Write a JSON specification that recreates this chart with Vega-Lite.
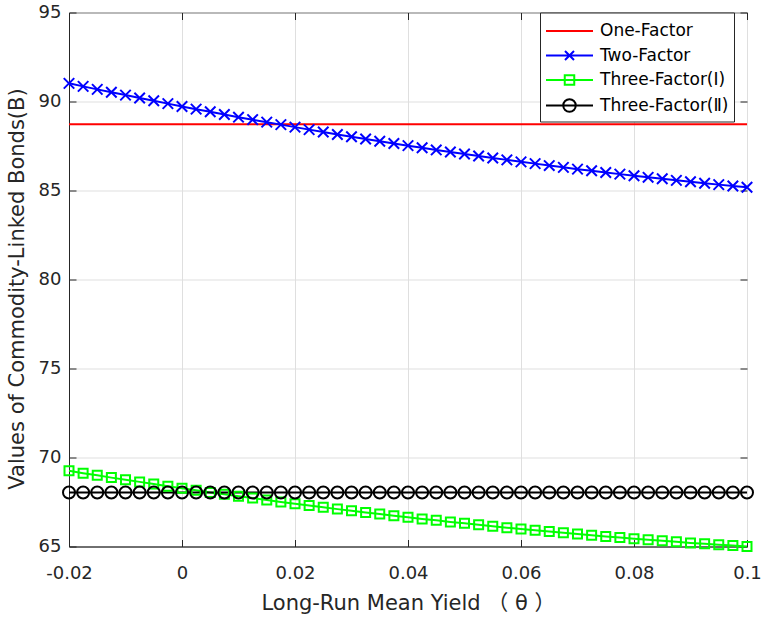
{
  "$schema": "https://vega.github.io/schema/vega-lite/v6.json",
  "width": 678,
  "height": 534,
  "autosize": "none",
  "padding": {"left": 69, "top": 12.5, "right": 14, "bottom": 74.5},
  "background": "white",
  "config": {
    "font": "DejaVu Sans, Noto Sans CJK SC",
    "view": {"stroke": "#262626", "strokeWidth": 1},
    "axis": {
      "domainColor": "#262626",
      "tickColor": "#262626",
      "gridColor": "#dfdfdf",
      "gridWidth": 1,
      "labelColor": "#262626",
      "titleColor": "#262626",
      "labelFont": "DejaVu Sans",
      "titleFont": "DejaVu Sans, Noto Sans CJK SC",
      "labelFontSize": 18,
      "titleFontSize": 21,
      "titleFontWeight": "normal"
    }
  },
  "data": {
    "values": [
      {"x": -0.02, "one": 88.72, "two": 91.02, "three1": 69.25, "three2": 68.03},
      {"x": -0.0175, "one": 88.72, "two": 90.85, "three1": 69.12, "three2": 68.03},
      {"x": -0.015, "one": 88.72, "two": 90.68, "three1": 69.0, "three2": 68.03},
      {"x": -0.0125, "one": 88.72, "two": 90.52, "three1": 68.87, "three2": 68.03},
      {"x": -0.01, "one": 88.72, "two": 90.36, "three1": 68.75, "three2": 68.03},
      {"x": -0.0075, "one": 88.72, "two": 90.2, "three1": 68.63, "three2": 68.03},
      {"x": -0.005, "one": 88.72, "two": 90.04, "three1": 68.51, "three2": 68.03},
      {"x": -0.0025, "one": 88.72, "two": 89.88, "three1": 68.39, "three2": 68.03},
      {"x": 0, "one": 88.72, "two": 89.72, "three1": 68.27, "three2": 68.03},
      {"x": 0.0025, "one": 88.72, "two": 89.57, "three1": 68.16, "three2": 68.03},
      {"x": 0.005, "one": 88.72, "two": 89.42, "three1": 68.04, "three2": 68.03},
      {"x": 0.0075, "one": 88.72, "two": 89.27, "three1": 67.93, "three2": 68.03},
      {"x": 0.01, "one": 88.72, "two": 89.12, "three1": 67.82, "three2": 68.03},
      {"x": 0.0125, "one": 88.72, "two": 88.98, "three1": 67.72, "three2": 68.03},
      {"x": 0.015, "one": 88.72, "two": 88.84, "three1": 67.61, "three2": 68.03},
      {"x": 0.0175, "one": 88.72, "two": 88.7, "three1": 67.5, "three2": 68.03},
      {"x": 0.02, "one": 88.72, "two": 88.56, "three1": 67.4, "three2": 68.03},
      {"x": 0.0225, "one": 88.72, "two": 88.42, "three1": 67.3, "three2": 68.03},
      {"x": 0.025, "one": 88.72, "two": 88.29, "three1": 67.2, "three2": 68.03},
      {"x": 0.0275, "one": 88.72, "two": 88.15, "three1": 67.1, "three2": 68.03},
      {"x": 0.03, "one": 88.72, "two": 88.02, "three1": 67.01, "three2": 68.03},
      {"x": 0.0325, "one": 88.72, "two": 87.89, "three1": 66.91, "three2": 68.03},
      {"x": 0.035, "one": 88.72, "two": 87.77, "three1": 66.82, "three2": 68.03},
      {"x": 0.0375, "one": 88.72, "two": 87.64, "three1": 66.73, "three2": 68.03},
      {"x": 0.04, "one": 88.72, "two": 87.52, "three1": 66.64, "three2": 68.03},
      {"x": 0.0425, "one": 88.72, "two": 87.4, "three1": 66.55, "three2": 68.03},
      {"x": 0.045, "one": 88.72, "two": 87.28, "three1": 66.47, "three2": 68.03},
      {"x": 0.0475, "one": 88.72, "two": 87.16, "three1": 66.38, "three2": 68.03},
      {"x": 0.05, "one": 88.72, "two": 87.05, "three1": 66.3, "three2": 68.03},
      {"x": 0.0525, "one": 88.72, "two": 86.94, "three1": 66.22, "three2": 68.03},
      {"x": 0.055, "one": 88.72, "two": 86.83, "three1": 66.14, "three2": 68.03},
      {"x": 0.0575, "one": 88.72, "two": 86.72, "three1": 66.06, "three2": 68.03},
      {"x": 0.06, "one": 88.72, "two": 86.61, "three1": 65.98, "three2": 68.03},
      {"x": 0.0625, "one": 88.72, "two": 86.51, "three1": 65.91, "three2": 68.03},
      {"x": 0.065, "one": 88.72, "two": 86.4, "three1": 65.84, "three2": 68.03},
      {"x": 0.0675, "one": 88.72, "two": 86.3, "three1": 65.77, "three2": 68.03},
      {"x": 0.07, "one": 88.72, "two": 86.2, "three1": 65.7, "three2": 68.03},
      {"x": 0.0725, "one": 88.72, "two": 86.11, "three1": 65.63, "three2": 68.03},
      {"x": 0.075, "one": 88.72, "two": 86.01, "three1": 65.56, "three2": 68.03},
      {"x": 0.0775, "one": 88.72, "two": 85.92, "three1": 65.5, "three2": 68.03},
      {"x": 0.08, "one": 88.72, "two": 85.83, "three1": 65.44, "three2": 68.03},
      {"x": 0.0825, "one": 88.72, "two": 85.74, "three1": 65.38, "three2": 68.03},
      {"x": 0.085, "one": 88.72, "two": 85.66, "three1": 65.32, "three2": 68.03},
      {"x": 0.0875, "one": 88.72, "two": 85.57, "three1": 65.26, "three2": 68.03},
      {"x": 0.09, "one": 88.72, "two": 85.49, "three1": 65.2, "three2": 68.03},
      {"x": 0.0925, "one": 88.72, "two": 85.41, "three1": 65.15, "three2": 68.03},
      {"x": 0.095, "one": 88.72, "two": 85.33, "three1": 65.1, "three2": 68.03},
      {"x": 0.0975, "one": 88.72, "two": 85.25, "three1": 65.05, "three2": 68.03},
      {"x": 0.1, "one": 88.72, "two": 85.18, "three1": 65.0, "three2": 68.03}
    ]
  },
  "transform": [
    {"fold": ["one", "two", "three1", "three2"], "as": ["series", "value"]}
  ],
  "resolve": {"axis": {"x": "independent", "y": "independent"}},
  "layer": [
    {
      "mark": {"type": "line", "strokeWidth": 2},
      "encoding": {
        "x": {
          "field": "x",
          "type": "quantitative",
          "scale": {"domain": [-0.02, 0.1], "nice": false, "zero": false},
          "axis": {
            "title": "Long-Run Mean Yield （ θ ）",
            "values": [-0.02, 0, 0.02, 0.04, 0.06, 0.08, 0.1],
            "labelExpr": "datum.value < 0 ? '-' + format(-datum.value, '.2~f') : format(datum.value, '.2~f')",
            "ticks": false,
            "tickSize": 0,
            "labelPadding": 18,
            "titlePadding": 10,
            "labelFlush": false
          }
        },
        "y": {
          "field": "value",
          "type": "quantitative",
          "scale": {"domain": [65, 95], "nice": false, "zero": false},
          "axis": {
            "title": "Values of Commodity-Linked Bonds(B)",
            "values": [65, 70, 75, 80, 85, 90, 95],
            "ticks": false,
            "tickSize": 0,
            "labelPadding": 8,
            "titlePadding": 11,
            "titleY": 276,
            "labelFlush": false
          }
        },
        "color": {
          "field": "series",
          "type": "nominal",
          "scale": {
            "domain": ["one", "two", "three1", "three2"],
            "range": ["#ff0000", "#0000ff", "#00ff00", "#000000"]
          },
          "legend": {
            "title": null,
            "orient": "none",
            "legendX": 471,
            "legendY": 0,
            "strokeColor": "#262626",
            "fillColor": "white",
            "padding": 5,
            "rowPadding": 2.5,
            "symbolSize": 625,
            "symbolOffset": 11,
            "symbolStrokeWidth": 2,
            "labelOffset": 17,
            "labelFontSize": 17,
            "labelColor": "#000000",
            "labelFont": "DejaVu Sans, Noto Sans CJK SC",
            "labelExpr": "datum.value === 'one' ? 'One-Factor' : datum.value === 'two' ? 'Two-Factor' : datum.value === 'three1' ? 'Three-Factor(Ⅰ)' : 'Three-Factor(Ⅱ)'",
            "encode": {
              "symbols": {
                "update": {
                  "shape": {"signal": "datum.value === 'one' ? 'M-1.88,0H1.88' : datum.value === 'two' ? 'M-1.88,0H1.88M-0.36,-0.36L0.36,0.36M-0.36,0.36L0.36,-0.36' : datum.value === 'three1' ? 'M-1.88,0H1.88M-0.38,-0.38H0.38V0.38H-0.38Z' : 'M-1.88,0H1.88M-0.5,0A0.5,0.5,0,1,0,0.5,0A0.5,0.5,0,1,0,-0.5,0'"},
                  "fill": {"value": "transparent"},
                  "strokeWidth": {"value": 2}
                }
              }
            }
          }
        }
      }
    },
    {
      "transform": [{"filter": "datum.series === 'two'"}],
      "mark": {"type": "point", "shape": "M-1,-1L1,1M-1,1L1,-1", "size": 110, "filled": false, "color": "#0000ff", "strokeWidth": 2, "opacity": 1},
      "encoding": {
        "x": {
          "field": "x",
          "type": "quantitative",
          "axis": {"orient": "top", "offset": -534, "values": [-0.02, 0, 0.02, 0.04, 0.06, 0.08, 0.1], "labels": false, "domain": false, "grid": false, "title": null, "tickSize": 7}
        },
        "y": {
          "field": "value",
          "type": "quantitative",
          "axis": {"orient": "right", "offset": -678, "values": [65, 70, 75, 80, 85, 90, 95], "labels": false, "domain": false, "grid": false, "title": null, "tickSize": 7}
        }
      }
    },
    {
      "transform": [{"filter": "datum.series === 'three1'"}],
      "mark": {"type": "point", "shape": "square", "size": 81, "filled": false, "color": "#00ff00", "strokeWidth": 2, "opacity": 1},
      "encoding": {
        "x": {
          "field": "x",
          "type": "quantitative",
          "axis": {"orient": "bottom", "offset": -534, "values": [-0.02, 0, 0.02, 0.04, 0.06, 0.08, 0.1], "labels": false, "domain": false, "grid": false, "title": null, "tickSize": 7}
        },
        "y": {
          "field": "value",
          "type": "quantitative",
          "axis": {"orient": "left", "offset": -678, "values": [65, 70, 75, 80, 85, 90, 95], "labels": false, "domain": false, "grid": false, "title": null, "tickSize": 7}
        }
      }
    },
    {
      "transform": [{"filter": "datum.series === 'three2'"}],
      "mark": {"type": "point", "shape": "circle", "size": 144, "filled": false, "color": "#000000", "strokeWidth": 2, "opacity": 1},
      "encoding": {
        "x": {"field": "x", "type": "quantitative", "axis": null},
        "y": {"field": "value", "type": "quantitative", "axis": null}
      }
    }
  ]
}
